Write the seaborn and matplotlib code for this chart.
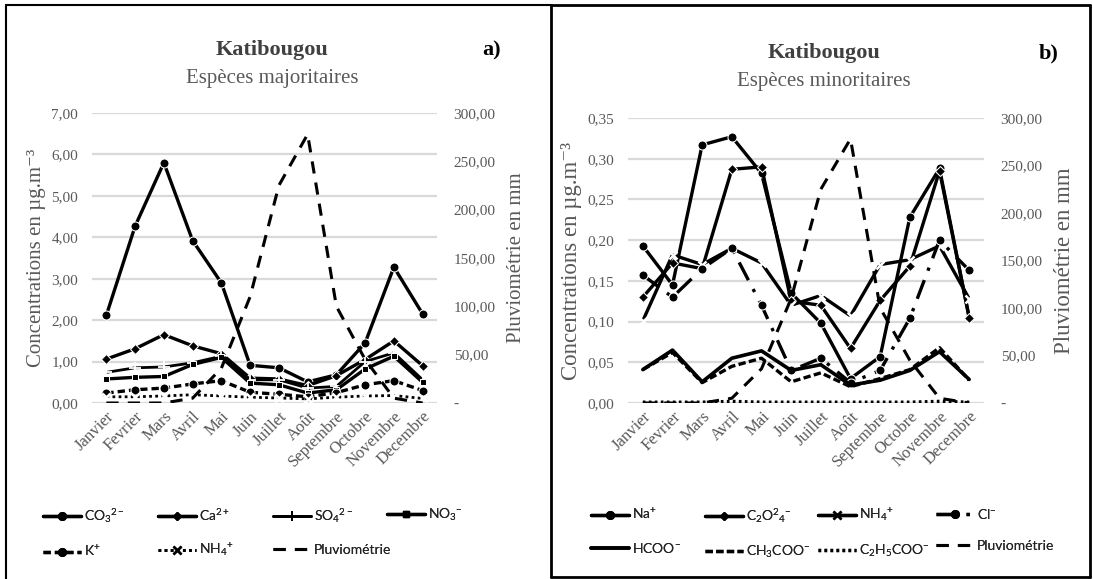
import numpy as np
import pandas as pd
import matplotlib
matplotlib.use("Agg")
import matplotlib.pyplot as plt
import seaborn as sns
from matplotlib.lines import Line2D
from matplotlib.ticker import FuncFormatter, MultipleLocator

# ---------------- data ----------------
months = ["Janvier", "Fevrier", "Mars", "Avril", "Mai", "Juin", "Juillet",
          "Août", "Septembre", "Octobre", "Novembre", "Decembre"]
pluvio = [0, 0, 0, 5, 36, 110, 225, 278, 100, 45, 5, 0]

# panel a) majoritaires
co3 = [2.12, 4.27, 5.80, 3.92, 2.90, 0.91, 0.85, 0.51, 0.68, 1.45, 3.28, 2.15]
ca = [1.06, 1.31, 1.65, 1.38, 1.19, 0.60, 0.58, 0.42, 0.66, 1.05, 1.50, 0.90]
so4 = [0.74, 0.85, 0.87, 0.97, 1.13, 0.56, 0.56, 0.36, 0.40, 1.00, 1.21, 0.56]
no3 = [0.58, 0.62, 0.64, 0.93, 1.10, 0.48, 0.44, 0.24, 0.32, 0.82, 1.13, 0.50]
k = [0.24, 0.32, 0.36, 0.46, 0.54, 0.26, 0.21, 0.15, 0.25, 0.44, 0.54, 0.30]
nh4_a = [0.15, 0.15, 0.17, 0.20, 0.17, 0.14, 0.12, 0.10, 0.14, 0.17, 0.18, 0.11]

# panel b) minoritaires
na = [0.193, 0.145, 0.317, 0.327, 0.282, 0.135, 0.098, 0.030, 0.057, 0.228, 0.288, 0.105]
c2o4 = [0.130, 0.172, 0.165, 0.287, 0.290, 0.125, 0.120, 0.067, 0.126, 0.168, 0.285, 0.105]
nh4_b = [0.101, 0.182, 0.170, 0.190, 0.172, 0.120, 0.132, 0.107, 0.170, 0.176, 0.193, 0.128]
cl = [0.157, 0.130, 0.165, 0.190, 0.120, 0.040, 0.055, 0.025, 0.040, 0.104, 0.200, 0.163]
hcoo = [0.041, 0.065, 0.026, 0.055, 0.064, 0.040, 0.047, 0.022, 0.028, 0.040, 0.063, 0.029]
ch3coo = [0.041, 0.062, 0.025, 0.045, 0.055, 0.026, 0.037, 0.020, 0.030, 0.041, 0.068, 0.028]
c2h5coo = [0.001, 0.001, 0.001, 0.002, 0.001, 0.001, 0.001, 0.001, 0.001, 0.001, 0.002, 0.001]

# ---------------- style ----------------
sns.set_theme(style="white")
plt.rcParams["font.family"] = ["Liberation Serif", "DejaVu Serif"]
plt.rcParams["mathtext.fontset"] = "custom"
plt.rcParams["mathtext.rm"] = "Lato"
plt.rcParams["mathtext.it"] = "Lato"
plt.rcParams["mathtext.bf"] = "Lato"

GREY = "#595959"
GRID = "#d9d9d9"
LEG_FONT = ["Lato", "DejaVu Sans"]

W, H = 1093, 579
fig = plt.figure(figsize=(W / 100, H / 100), dpi=100)


def fx(px):
    return px / W


def fy(py):
    return 1 - py / H


def comma(v, _):
    return f"{v:.2f}".replace(".", ",")


def comma_dash(v, _):
    if abs(v) < 1e-9:
        return "-"
    return f"{v:.2f}".replace(".", ",")


x = np.arange(len(months))

LONGDASH = (0, (4, 3))


def setup_axes(ax, ymax, ystep, ylabel_size):
    ax.set_xlim(-0.5, len(months) - 0.5)
    ax.set_ylim(0, ymax)
    ax.yaxis.set_major_locator(MultipleLocator(ystep))
    ax.yaxis.set_major_formatter(FuncFormatter(comma))
    ax.grid(axis="y", color=GRID, lw=1.6)
    ax.grid(axis="x", visible=False)
    for s in ax.spines.values():
        s.set_visible(False)
    ax.set_xticks(x)
    ax.set_xticklabels(months, rotation=45, ha="right", rotation_mode="anchor",
                       fontsize=12, color=GREY)
    ax.tick_params(axis="both", length=0, pad=4)
    ax.tick_params(axis="y", labelsize=11, labelcolor=GREY, pad=10)
    ax.set_ylabel("Concentrations en µg.m⁻³", fontsize=ylabel_size, color=GREY)
    ax.set_xlabel("")
    ax2 = ax.twinx()
    ax2.set_ylim(0, 300)
    ax2.yaxis.set_major_locator(MultipleLocator(50))
    ax2.yaxis.set_major_formatter(FuncFormatter(comma_dash))
    ax2.tick_params(axis="y", length=0, labelsize=11, labelcolor=GREY, pad=12)
    for s in ax2.spines.values():
        s.set_visible(False)
    ax2.grid(False)
    ax2.set_ylabel("Pluviométrie en mm", fontsize=ylabel_size, color=GREY, labelpad=8)
    return ax2


def draw(ax, vals, **kw):
    sns.lineplot(x=x, y=vals, ax=ax, color="black", legend=False, **kw)


# ---------------- panel a ----------------
axa = fig.add_axes([fx(92), fy(403), fx(437) - fx(92), fy(113) - fy(403)])
axa2 = setup_axes(axa, 7, 1, 15)

specs_a = [
    (r"CO$_3$$^{2-}$", co3, dict(lw=2.4, linestyle="-", marker="o", markersize=6.5)),
    (r"Ca$^{2+}$", ca, dict(lw=2.4, linestyle="-", marker="D", markersize=5)),
    (r"SO$_4$$^{2-}$", so4, dict(lw=2.0, linestyle="-", marker="+", markersize=9, markeredgewidth=1.3)),
    (r"NO$_3$$^{-}$", no3, dict(lw=2.4, linestyle="-", marker="s", markersize=5)),
    (r"K$^{+}$", k, dict(lw=2.4, linestyle=(0, (2.2, 1.2)), marker="o", markersize=6.5)),
    (r"NH$_4$$^{+}$", nh4_a, dict(lw=2.0, linestyle=(0, (1, 1.2)), marker="x", markersize=6, markeredgewidth=1.8)),
]
for _, vals, kw in specs_a:
    draw(axa, vals, **kw)
draw(axa2, pluvio, lw=2.2, linestyle=LONGDASH)

# ---------------- panel b ----------------
axb = fig.add_axes([fx(628), fy(403), fx(984) - fx(628), fy(118) - fy(403)])
axb2 = setup_axes(axb, 0.35, 0.05, 16.5)

specs_b = [
    (r"Na$^{+}$", na, dict(lw=2.4, linestyle="-", marker="o", markersize=6.5)),
    (r"C$_2$O$^2$$_4$$^{-}$", c2o4, dict(lw=2.4, linestyle="-", marker="D", markersize=5)),
    (r"NH$_4$$^{+}$", nh4_b, dict(lw=2.4, linestyle="-", marker="x", markersize=6, markeredgewidth=1.8)),
    (r"Cl$^{-}$", cl, dict(lw=2.4, linestyle=(0, (6, 3, 1, 3)), marker="o", markersize=6.5)),
    (r"HCOO$^{-}$", hcoo, dict(lw=2.6, linestyle="-")),
    (r"CH$_3$COO$^{-}$", ch3coo, dict(lw=2.4, linestyle=(0, (2.2, 1.0)))),
    (r"C$_2$H$_5$COO$^{-}$", c2h5coo, dict(lw=2.4, linestyle=(0, (0.8, 1.0)))),
]
for _, vals, kw in specs_b:
    draw(axb, vals, **kw)
draw(axb2, pluvio, lw=2.2, linestyle=LONGDASH)

# ---------------- titles ----------------
for cx, sub, tag, tx, ty in [(272, "Espèces majoritaires", "a)", 492, 50),
                             (824, "Espèces minoritaires", "b)", 1049, 53)]:
    fig.text(fx(cx), fy(ty), "Katibougou", ha="center", va="center", fontsize=16,
             fontweight="bold", color="#404040")
    fig.text(fx(cx), fy(ty + 28), sub, ha="center", va="center", fontsize=15, color=GREY)
    fig.text(fx(tx), fy(ty), tag, ha="center", va="center", fontsize=16,
             fontweight="bold", color="black")


# ---------------- legends ----------------
def handle(kw):
    kw = dict(kw)
    ms = kw.pop("markersize", None)
    h = Line2D([], [], color="black", **kw)
    if ms is not None:
        h.set_markersize(ms * 0.85)
    return h


def make_legends(entries, xcols):
    rows = [entries[:4], entries[4:]]
    for ci, xc in enumerate(xcols):
        hs, ls = [], []
        for r in rows:
            if ci < len(r):
                hs.append(handle(r[ci][1]))
                ls.append(r[ci][0])
        leg = fig.legend(hs, ls, loc="upper left", bbox_to_anchor=(fx(xc), fy(507)),
                         bbox_transform=fig.transFigure, frameon=False,
                         handlelength=2.7, handletextpad=0.25, labelspacing=1.35,
                         borderpad=0, borderaxespad=0,
                         prop={"family": LEG_FONT, "size": 10})
        for t in leg.get_texts():
            t.set_color("#262626")
        fig.add_artist(leg)


entries_a = [(lab, kw) for lab, _, kw in specs_a] + [("Pluviométrie", dict(lw=2.2, linestyle=LONGDASH))]
entries_b = [(lab, kw) for lab, _, kw in specs_b] + [("Pluviométrie", dict(lw=2.2, linestyle=LONGDASH))]
make_legends(entries_a, [43, 158, 273, 387])
make_legends(entries_b, [591, 705, 818, 936])

# ---------------- panel borders ----------------
def fline(x0, y0, x1, y1, lw=1.5):
    fig.add_artist(Line2D([fx(x0), fx(x1)], [fy(y0), fy(y1)], transform=fig.transFigure,
                          color="black", lw=lw))

fline(6, 5, 551, 5)
fline(6, 5, 6, 579)
fline(551, 5, 1090, 5, 2)
fline(551, 5, 551, 577, 2)
fline(551, 577, 1090, 577, 2)
fline(1090, 5, 1090, 577, 2)

fig.savefig("out.png", dpi=100)
